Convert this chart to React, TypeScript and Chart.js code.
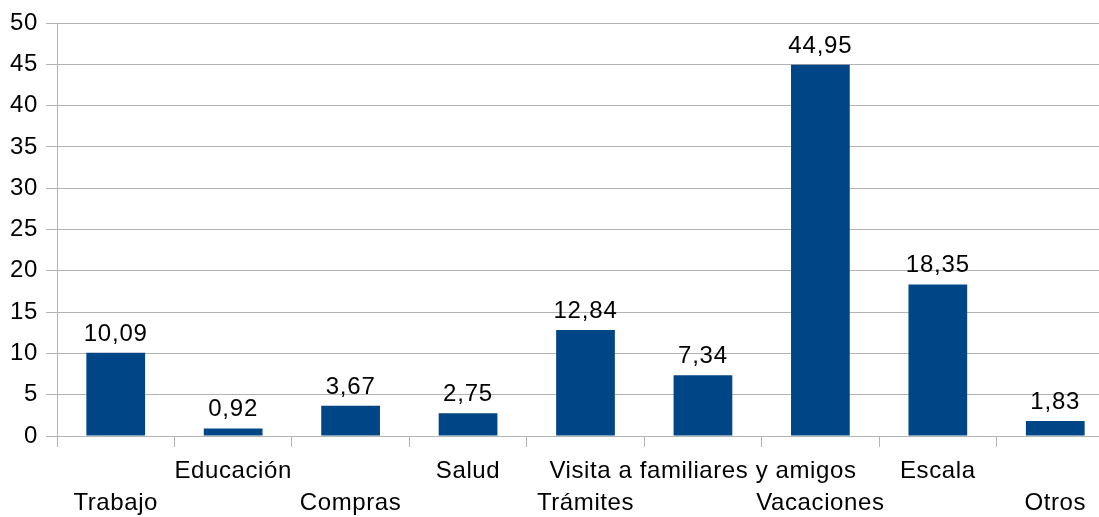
import React, { useEffect, useRef } from "react";
import { Chart, registerables } from "chart.js";

Chart.register(...registerables);

const categories = [
  "Trabajo",
  "Educación",
  "Compras",
  "Salud",
  "Trámites",
  "Visita a familiares y amigos",
  "Vacaciones",
  "Escala",
  "Otros",
];
const values = [10.09, 0.92, 3.67, 2.75, 12.84, 7.34, 44.95, 18.35, 1.83];
const yMin = 0;
const yMax = 50;
const yStep = 5;

const FONT = '"Liberation Sans", Arial, sans-serif';
const BAR_COLOR = "#004586";
const GRID_COLOR = "#b3b3b3";

const CANVAS_W = 1114;
const CANVAS_H = 517;

const textSpacing = {
  id: "textSpacing",
  beforeDraw(chart: any) {
    (chart.ctx as any).letterSpacing = "0.6px";
  },
};

const valueLabels = {
  id: "valueLabels",
  afterDatasetsDraw(chart: any) {
    const ctx = chart.ctx;
    const meta = chart.getDatasetMeta(0);
    ctx.save();
    (ctx as any).letterSpacing = "0.8px";
    ctx.font = `24px ${FONT}`;
    ctx.fillStyle = "#000000";
    ctx.textAlign = "center";
    ctx.textBaseline = "alphabetic";
    meta.data.forEach((el: any, i: number) => {
      const v = chart.data.datasets[0].data[i] as number;
      ctx.fillText(v.toFixed(2).replace(".", ","), el.x, el.y - 12);
    });
    ctx.restore();
  },
};

export default function App() {
  const ref = useRef<HTMLCanvasElement | null>(null);

  useEffect(() => {
    if (!ref.current) return;
    const chart = new Chart(ref.current, {
      type: "bar",
      data: {
        labels: categories,
        datasets: [
          {
            data: values,
            backgroundColor: BAR_COLOR,
            borderWidth: 0,
            barPercentage: 0.5,
            categoryPercentage: 1,
          },
        ],
      },
      options: {
        responsive: false,
        animation: false,
        layout: { padding: { top: 23, left: 0, right: 0, bottom: 0 } },
        plugins: {
          legend: { display: false },
          tooltip: { enabled: false },
        },
        scales: {
          x: {
            offset: true,
            grid: {
              display: true,
              offset: true,
              drawOnChartArea: false,
              drawTicks: true,
              tickLength: 11,
              color: GRID_COLOR,
            },
            border: { display: true, color: GRID_COLOR },
            ticks: {
              autoSkip: false,
              maxRotation: 0,
              minRotation: 0,
              padding: 8,
              color: "#000000",
              font: { family: FONT, size: 24, lineHeight: "32px" as any },
              callback: (_v: any, i: number) =>
                i % 2 === 0 ? ["", categories[i]] : [categories[i], ""],
            },
            afterFit: (scale: any) => {
              scale.height = CANVAS_H - 436;
            },
          },
          y: {
            min: yMin,
            max: yMax,
            grid: {
              color: GRID_COLOR,
              tickLength: 11,
              drawTicks: true,
            },
            border: { display: true, color: GRID_COLOR },
            ticks: {
              stepSize: yStep,
              padding: 8,
              color: "#000000",
              font: { family: FONT, size: 24 },
            },
            afterFit: (scale: any) => {
              scale.width = 57;
            },
          },
        },
      },
      plugins: [textSpacing, valueLabels],
    });
    return () => chart.destroy();
  }, []);

  return (
    <div
      style={{
        position: "fixed",
        left: 0,
        top: 0,
        width: 1099,
        height: 517,
        overflow: "hidden",
        background: "#ffffff",
      }}
    >
      <canvas
        ref={ref}
        width={CANVAS_W}
        height={CANVAS_H}
        style={{ display: "block", width: CANVAS_W, height: CANVAS_H }}
      />
    </div>
  );
}
